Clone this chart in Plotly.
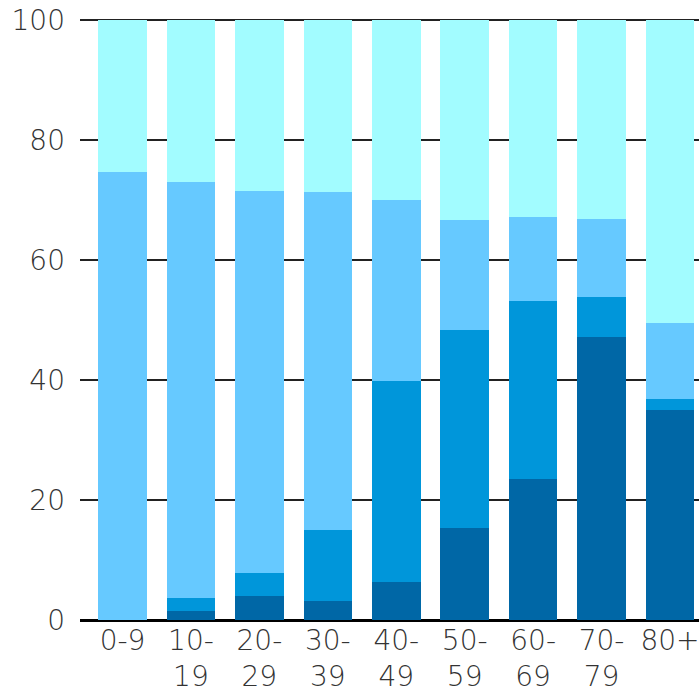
import plotly.graph_objects as go

categories = ["0-9", "10-<br>19", "20-<br>29", "30-<br>39", "40-<br>49",
              "50-<br>59", "60-<br>69", "70-<br>79", "80+"]
# cumulative tops
dark_vals = [0.0, 1.5, 4.0, 3.2, 6.4, 15.4, 23.5, 47.2, 35.0]
mid_top = [0.0, 3.7, 7.8, 15.0, 39.8, 48.3, 53.2, 53.9, 36.8]
light_top = [74.7, 73.0, 71.5, 71.4, 70.0, 66.7, 67.2, 66.8, 49.5]
total = [100] * 9

mid_vals = [m - d for m, d in zip(mid_top, dark_vals)]
light_vals = [l - m for l, m in zip(light_top, mid_top)]
top_vals = [t - l for t, l in zip(total, light_top)]

colors = ["#0067A6", "#0096DA", "#66C9FF", "#A2FCFF"]
series = [dark_vals, mid_vals, light_vals, top_vals]

x = list(range(len(categories)))
fig = go.Figure()
for vals, c in zip(series, colors):
    fig.add_trace(go.Bar(x=x, y=vals, marker=dict(color=c, line=dict(width=0)),
                         width=0.71, showlegend=False))

font = dict(family="DejaVu Sans", size=28, color="#333333", weight=300)
fig.update_layout(
    barmode="stack",
    width=699, height=695,
    margin=dict(l=80, r=0, t=17, b=75, autoexpand=False),
    paper_bgcolor="white", plot_bgcolor="white",
    font=font,
)
fig.update_xaxes(range=[-0.621, 8.424], tickvals=x, ticktext=categories,
                 showgrid=False, showline=False, zeroline=False,
                 ticks="", tickfont=font, ticklabelstandoff=1,
                 ticklabeloverflow="allow")
fig.update_yaxes(range=[0, 100.5], tickvals=[0, 20, 40, 60, 80, 100],
                 showgrid=True, gridcolor="#222222", gridwidth=2,
                 zeroline=True, zerolinecolor="#000000", zerolinewidth=3,
                 showline=False, ticks="", tickfont=font,
                 ticklabelstandoff=14, ticklabeloverflow="allow",
                 layer="below traces")
fig.write_html("out.html", config={"displayModeBar": False},
               post_script="document.body.style.margin='0';document.body.style.overflow='hidden';")
